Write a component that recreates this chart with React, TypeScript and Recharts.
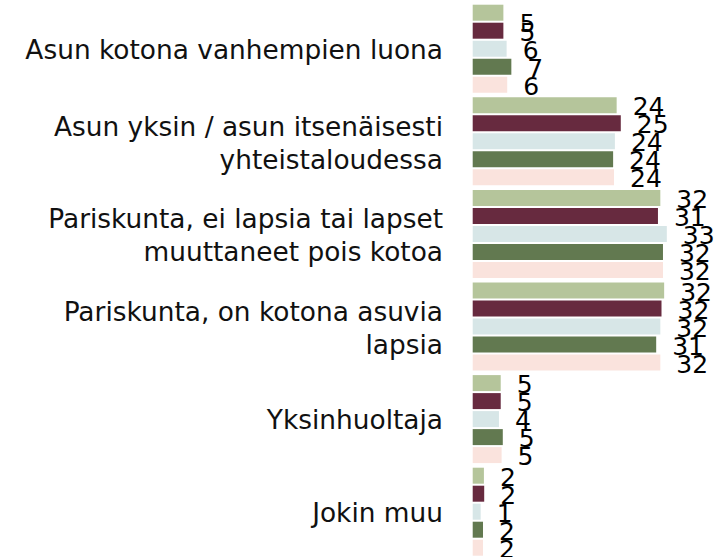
import React from "react";
import { BarChart, Bar, XAxis, YAxis, LabelList } from "recharts";

const categories = [
  "Asun kotona vanhempien luona",
  "Asun yksin / asun itsenäisesti\nyhteistaloudessa",
  "Pariskunta, ei lapsia tai lapset\nmuuttaneet pois kotoa",
  "Pariskunta, on kotona asuvia\nlapsia",
  "Yksinhuoltaja",
  "Jokin muu",
];

const seriesA = [5.2, 24.4, 31.8, 32.45, 4.75, 1.9];
const seriesB = [5.2, 25.1, 31.4, 32.0, 4.75, 1.95];
const seriesC = [5.75, 24.1, 32.9, 31.8, 4.45, 1.35];
const seriesD = [6.55, 23.8, 32.25, 31.1, 5.1, 1.75];
const seriesE = [5.85, 23.95, 32.25, 31.8, 4.9, 1.75];

const seriesKeys = ["a", "b", "c", "d", "e"];
const seriesColors = ["#b5c59b", "#672a3f", "#d7e6e7", "#627950", "#fae3dd"];

const data = categories.map((name, i) => ({
  name,
  a: seriesA[i],
  b: seriesB[i],
  c: seriesC[i],
  d: seriesD[i],
  e: seriesE[i],
}));

const FONT = "'DejaVu Sans', Verdana, sans-serif";

const CategoryTick = (props: any) => {
  const { x, y, payload } = props;
  const lines = String(payload.value).split("\n");
  const lh = 33;
  const start = -((lines.length - 1) * lh) / 2 + (lines.length > 1 ? 1 : 0);
  return (
    <text
      x={x}
      y={y}
      textAnchor="end"
      fontFamily={FONT}
      fontSize={26.4}
      fill="#111"
    >
      {lines.map((l, i) => (
        <tspan key={i} x={x} y={y + start + i * lh} dy="0.36em">
          {l}
        </tspan>
      ))}
    </text>
  );
};

const ValueLabel = (props: any) => {
  const { x, y, width, height, value } = props;
  const cy = Math.max(y + height / 2 + 1, 23);
  return (
    <text
      x={x + width + 16}
      y={cy}
      dy="0.36em"
      fontFamily={FONT}
      fontSize={25}
      fill="#000"
    >
      {Math.round(value)}
    </text>
  );
};

export default function App() {
  return (
    <div
      style={{
        position: "fixed",
        left: 0,
        top: 0,
        width: 714,
        height: 557,
        overflow: "hidden",
        background: "#fff",
      }}
    >
      <BarChart
        width={714}
        height={561}
        data={data}
        layout="vertical"
        margin={{ top: 2.7, right: 5.3, bottom: 2.7, left: 0 }}
        barSize={16}
        barGap={2}
      >
        <XAxis type="number" domain={[0, 40]} hide />
        <YAxis
          type="category"
          dataKey="name"
          width={472.7}
          axisLine={false}
          tickLine={false}
          tickSize={0}
          tickMargin={29.7}
          tick={<CategoryTick />}
          interval={0}
        />
        {seriesKeys.map((k, i) => (
          <Bar
            key={k}
            dataKey={k}
            fill={seriesColors[i]}
            isAnimationActive={false}
          >
            <LabelList dataKey={k} content={<ValueLabel />} />
          </Bar>
        ))}
      </BarChart>
    </div>
  );
}
